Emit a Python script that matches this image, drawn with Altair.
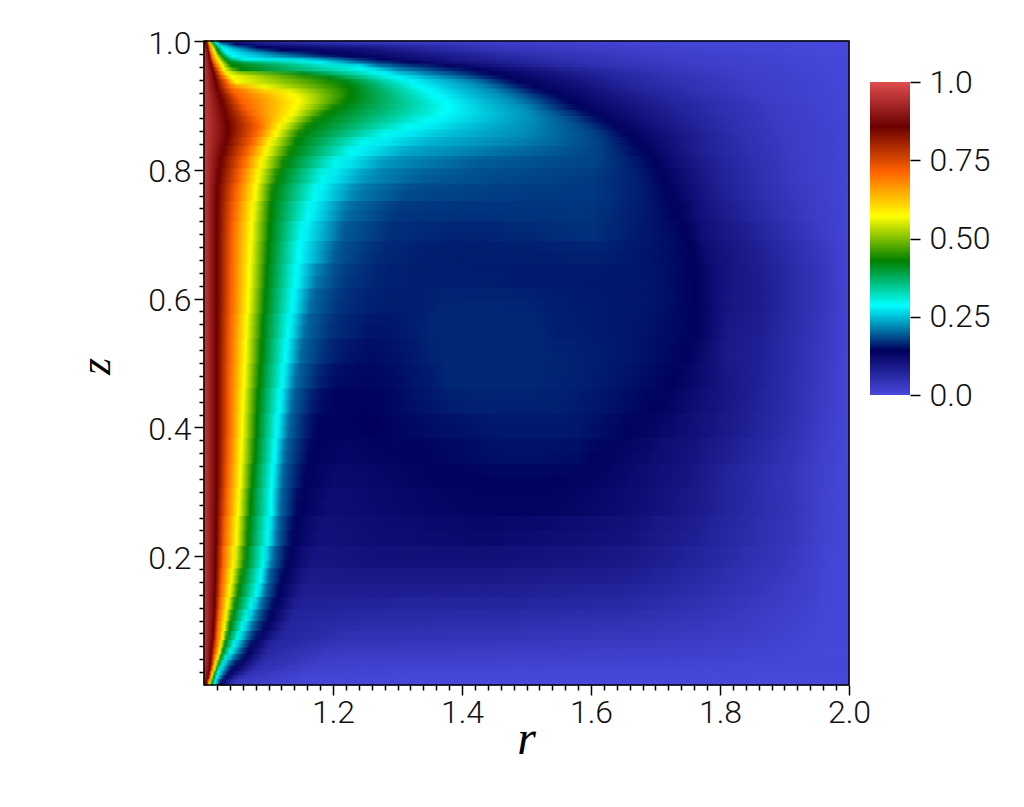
import altair as alt

# Colour map of the field (value knots and their colours)
KNOT_V = [0.0, 1/7, 2/7, 3/7, 4/7, 5/7, 6/7, 1.0]
KNOT_RGB = [(71, 71, 219), (0, 0, 92), (0, 255, 255), (0, 128, 0),
            (255, 255, 0), (255, 97, 0), (107, 0, 0), (224, 77, 77)]
N = 1/7

# Bands of z (edges, top to bottom)
Z_EDGES = [1, .9953, .9907, .986, .9814, .9767, .972, .9674, .9627, .9565, .9503, .9441, .9379,
           .9301, .9224, .9146, .9068, .8975, .8882, .8789, .868, .8571, .8447, .8292, .8137,
           .7904, .7671, .736, .705, .674, .635, .596, .5575, .5186, .4798, .441, .402, .3634,
           .3245, .2857, .2391, .1925, .1693, .146, .1273, .107, .0916, .076, .0637, .053, .0435,
           .034, .0264, .019, .0124, .006, 0]

# Field value at the wall r = 1 for each band
WALL = [.88, .93, .96, .97, .97, .97, .97, .97, .97, .97, .97, .97, .97, .97, .97, .97, .97,
        .97, .97, .97, .97, .97, .97, .97, .97, .97, .97, .97, .97, .97, .97, .97, .97, .97,
        .97, .97, .97, .97, .97, .97, .97, .97, .97, .97, .97, .97, .97, .97, .97, .97, .97,
        .97, .96, .95, .93, .88]

# r at which each band crosses the named colour levels
R_DARK = [1.004, 1.005, 1.005, 1.007, 1.008, 1.009, 1.009, 1.011, 1.012, 1.014, 1.016, 1.017,
          1.019, 1.020, 1.023, 1.026, 1.028, 1.031, 1.033, 1.036, 1.037, 1.036, 1.033, 1.028,
          1.025, 1.022, 1.020, 1.020, 1.020, 1.020, 1.020, 1.020, 1.020, 1.020, 1.020, 1.020,
          1.020, 1.020, 1.020, 1.019, 1.019, 1.018, 1.018, 1.017, 1.017, 1.016, 1.015, 1.014,
          1.012, 1.011, 1.011, 1.010, 1.009, 1.007, 1.006, 1.004]
R_ORANGE = [1.006, 1.008, 1.009, 1.009, 1.011, 1.012, 1.014, 1.016, 1.019, 1.023, 1.026, 1.031,
            1.036, 1.040, 1.047, 1.054, 1.060, 1.067, 1.073, 1.081, 1.085, 1.079, 1.073, 1.065,
            1.059, 1.053, 1.048, 1.045, 1.043, 1.043, 1.042, 1.042, 1.040, 1.040, 1.039, 1.039,
            1.039, 1.037, 1.036, 1.034, 1.031, 1.029, 1.027, 1.026, 1.024, 1.022, 1.021, 1.020,
            1.019, 1.017, 1.015, 1.014, 1.012, 1.010, 1.009, 1.006]
R_YELLOW = [1.008, 1.011, 1.014, 1.016, 1.018, 1.020, 1.023, 1.026, 1.029, 1.031, 1.037, 1.043,
            1.050, 1.093, 1.133, 1.144, 1.147, 1.141, 1.135, 1.126, 1.116, 1.110, 1.101, 1.095,
            1.088, 1.082, 1.079, 1.074, 1.073, 1.071, 1.070, 1.068, 1.065, 1.064, 1.062, 1.060,
            1.059, 1.057, 1.056, 1.053, 1.050, 1.045, 1.042, 1.039, 1.036, 1.033, 1.031, 1.029,
            1.026, 1.024, 1.021, 1.018, 1.016, 1.013, 1.012, 1.009]
R_GREEN = [1.012, 1.016, 1.019, 1.021, 1.024, 1.029, 1.033, 1.038, 1.043, 1.057, 1.155, 1.195,
           1.217, 1.225, 1.228, 1.225, 1.217, 1.200, 1.186, 1.171, 1.158, 1.147, 1.141, 1.132,
           1.122, 1.112, 1.105, 1.102, 1.101, 1.098, 1.096, 1.093, 1.090, 1.088, 1.085, 1.082,
           1.081, 1.078, 1.074, 1.071, 1.067, 1.062, 1.056, 1.052, 1.047, 1.042, 1.039, 1.034,
           1.031, 1.028, 1.025, 1.022, 1.019, 1.016, 1.014, 1.012]
R_CYAN = [1.018, 1.022, 1.029, 1.033, 1.037, 1.045, 1.064, 1.184, 1.242, 1.264, 1.282, 1.302,
          1.322, 1.338, 1.353, 1.364, 1.377, 1.380, 1.369, 1.346, 1.316, 1.282, 1.245, 1.226,
          1.202, 1.183, 1.171, 1.160, 1.150, 1.146, 1.141, 1.136, 1.130, 1.126, 1.121, 1.116,
          1.112, 1.109, 1.105, 1.104, 1.098, 1.091, 1.087, 1.081, 1.073, 1.065, 1.059, 1.052,
          1.046, 1.040, 1.033, 1.028, 1.023, 1.021, 1.019, 1.017]

# (r, value) readings beyond the cyan crossing, one list per band
TAILS = [
 [(1.026,N),(1.047,.10),(1.093,.06),(1.186,.03),(1.310,.015),(1.543,.005),(2,0)],
 [(1.050,N),(1.109,.10),(1.242,.07),(1.465,.03),(1.698,.008),(2,0)],
 [(1.085,N),(1.242,.10),(1.357,.06),(1.448,.035),(1.698,.012),(2,0)],
 [(1.121,N),(1.242,.12),(1.357,.07),(1.465,.04),(1.698,.015),(1.977,0),(2,0)],
 [(1.186,N),(1.295,.11),(1.388,.08),(1.496,.045),(1.698,.02),(1.977,.002),(2,0)],
 [(1.228,N),(1.357,.10),(1.450,.07),(1.558,.045),(1.729,.02),(1.977,.003),(2,0)],
 [(1.155,.28),(1.206,.22),(1.273,N),(1.372,.10),(1.465,.07),(1.574,.045),(1.744,.02),(2,.003)],
 [(1.233,.22),(1.318,N),(1.419,.10),(1.504,.07),(1.605,.045),(1.760,.02),(2,.003)],
 [(1.267,.22),(1.380,N),(1.465,.10),(1.543,.07),(1.651,.04),(1.791,.02),(2,.003)],
 [(1.302,.22),(1.425,N),(1.496,.11),(1.597,.07),(1.698,.04),(1.822,.02),(2,.003)],
 [(1.349,.22),(1.448,N),(1.527,.11),(1.620,.07),(1.721,.04),(1.837,.02),(2,.004)],
 [(1.388,.22),(1.470,N),(1.550,.11),(1.636,.07),(1.729,.045),(1.845,.02),(2,.005)],
 [(1.372,.25),(1.419,.22),(1.488,N),(1.566,.11),(1.651,.07),(1.744,.045),(1.853,.02),(2,.005)],
 [(1.388,.25),(1.437,.22),(1.512,N),(1.589,.11),(1.667,.07),(1.760,.045),(1.860,.02),(2,.005)],
 [(1.406,.25),(1.457,.22),(1.532,N),(1.605,.11),(1.690,.07),(1.775,.045),(1.868,.02),(2,.005)],
 [(1.419,.25),(1.473,.22),(1.555,N),(1.620,.11),(1.690,.08),(1.775,.05),(1.876,.02),(2,.005)],
 [(1.434,.25),(1.488,.22),(1.569,N),(1.636,.11),(1.705,.08),(1.791,.05),(1.876,.025),(2,.005)],
 [(1.442,.25),(1.504,.22),(1.543,.18),(1.586,N),(1.651,.11),(1.721,.08),(1.798,.05),(1.884,.025),(2,.005)],
 [(1.450,.25),(1.512,.22),(1.566,.18),(1.605,N),(1.667,.11),(1.729,.08),(1.806,.05),(1.891,.025),(2,.005)],
 [(1.434,.25),(1.512,.22),(1.581,.18),(1.623,N),(1.682,.11),(1.744,.08),(1.814,.05),(1.899,.025),(2,.006)],
 [(1.403,.25),(1.504,.22),(1.597,.18),(1.643,N),(1.698,.11),(1.752,.08),(1.822,.05),(1.902,.025),(2,.006)],
 [(1.364,.25),(1.496,.22),(1.609,.18),(1.659,N),(1.710,.11),(1.752,.09),(1.829,.05),(1.907,.025),(2,.006)],
 [(1.341,.24),(1.496,.21),(1.612,.18),(1.674,N),(1.721,.11),(1.767,.08),(1.837,.05),(1.910,.025),(2,.006)],
 [(1.310,.23),(1.465,.20),(1.612,.18),(1.687,N),(1.729,.11),(1.775,.08),(1.845,.05),(1.915,.025),(2,.006)],
 [(1.279,.22),(1.419,.19),(1.605,.18),(1.667,.16),(1.701,N),(1.744,.11),(1.791,.08),(1.853,.05),(1.918,.025),(2,.006)],
 [(1.248,.22),(1.341,.19),(1.496,.18),(1.589,.175),(1.674,.16),(1.713,N),(1.755,.11),(1.798,.08),(1.860,.05),(1.922,.025),(2,.007)],
 [(1.233,.21),(1.310,.18),(1.465,.175),(1.605,.175),(1.674,.16),(1.705,.15),(1.726,N),(1.764,.11),(1.806,.08),(1.868,.05),(1.926,.028),(2,.007)],
 [(1.217,.20),(1.295,.17),(1.434,.168),(1.589,.172),(1.690,.155),(1.740,N),(1.772,.11),(1.820,.085),(1.880,.055),(1.940,.026),(2,.006)],
 [(1.217,.19),(1.287,.168),(1.388,.16),(1.501,.163),(1.603,.17),(1.656,.16),(1.722,.15),(1.752,N),(1.778,.11),(1.830,.09),(1.892,.058),(1.950,.028),(2,.005)],
 [(1.202,.19),(1.264,.165),(1.341,.158),(1.620,.158),(1.681,.155),(1.733,.148),(1.760,N),(1.794,.11),(1.845,.09),(1.907,.06),(1.964,.03),(2,.004)],
 [(1.174,.20),(1.225,.17),(1.287,.16),(1.372,.16),(1.690,.155),(1.736,.148),(1.763,N),(1.811,.10),(1.862,.087),(1.913,.058),(1.966,.032),(2,.004)],
 [(1.164,.20),(1.209,.17),(1.256,.16),(1.287,.158),(1.346,.16),(1.372,.165),(1.496,.165),(1.535,.16),(1.682,.155),(1.735,.148),(1.764,N),(1.811,.10),(1.862,.087),(1.913,.058),(1.966,.03),(2,.004)],
 [(1.155,.2),(1.194,.17),(1.233,.158),(1.264,.152),(1.295,.155),(1.333,.16),(1.353,.165),(1.519,.165),(1.543,.16),(1.667,.155),(1.728,.148),(1.760,N),(1.811,.095),(1.862,.08),(1.913,.055),(1.966,.027),(2,.004)],
 [(1.149,.2),(1.183,.17),(1.209,.155),(1.256,.148),(1.295,.152),(1.353,.16),(1.380,.165),(1.519,.165),(1.600,.16),(1.660,.155),(1.718,.148),(1.744,N),(1.811,.09),(1.862,.078),(1.913,.053),(1.966,.024),(2,.004)],
 [(1.140,.2),(1.167,.17),(1.181,.155),(1.202,.147),(1.248,.145),(1.295,.148),(1.330,.155),(1.364,.16),(1.380,.165),(1.493,.165),(1.578,.16),(1.634,.155),(1.691,.148),(1.724,N),(1.758,.125),(1.811,.10),(1.862,.076),(1.913,.052),(1.966,.022),(2,.004)],
 [(1.135,.2),(1.155,.17),(1.167,.155),(1.183,.147),(1.209,N),(1.271,N),(1.318,.15),(1.364,.155),(1.434,.16),(1.552,.16),(1.603,.155),(1.656,.148),(1.698,N),(1.758,.115),(1.811,.095),(1.862,.072),(1.913,.05),(1.966,.02),(2,.004)],
 [(1.130,.2),(1.149,.17),(1.160,.155),(1.175,N),(1.217,.138),(1.264,N),(1.349,.148),(1.388,.15),(1.465,.155),(1.578,.155),(1.618,.148),(1.659,N),(1.706,.125),(1.758,.11),(1.811,.09),(1.862,.068),(1.913,.046),(1.966,.017),(2,.003)],
 [(1.124,.2),(1.141,.17),(1.163,N),(1.217,.128),(1.264,.135),(1.341,N),(1.450,.15),(1.527,.15),(1.578,.148),(1.609,N),(1.656,.127),(1.707,.115),(1.758,.1),(1.811,.078),(1.862,.058),(1.913,.038),(1.966,.012),(2,.003)],
 [(1.121,.2),(1.136,.17),(1.155,N),(1.202,.12),(1.264,.125),(1.326,.135),(1.419,N),(1.552,N),(1.656,.122),(1.758,.097),(1.811,.07),(1.862,.052),(1.913,.034),(1.966,.011),(2,.003)],
 [(1.118,.2),(1.132,.17),(1.144,N),(1.194,.115),(1.264,.122),(1.419,.135),(1.527,.135),(1.656,.118),(1.758,.09),(1.862,.054),(1.913,.038),(1.966,.01),(2,.003)],
 [(1.112,.2),(1.124,.17),(1.135,N),(1.178,.105),(1.264,.115),(1.434,.12),(1.552,.11),(1.656,.10),(1.758,.078),(1.862,.048),(1.913,.033),(1.966,.009),(2,.003)],
 [(1.103,.2),(1.127,N),(1.165,.095),(1.264,.102),(1.45,.10),(1.552,.097),(1.656,.09),(1.758,.068),(1.862,.042),(1.913,.028),(1.966,.008),(2,.003)],
 [(1.099,.2),(1.12,N),(1.158,.088),(1.264,.09),(1.465,.088),(1.552,.083),(1.656,.078),(1.758,.06),(1.862,.037),(1.913,.024),(1.966,.007),(2,.003)],
 [(1.094,.2),(1.115,N),(1.15,.082),(1.264,.08),(1.465,.077),(1.552,.073),(1.656,.068),(1.758,.053),(1.862,.032),(1.913,.021),(1.966,.006),(2,.002)],
 [(1.087,.2),(1.107,N),(1.142,.076),(1.264,.068),(1.465,.066),(1.552,.062),(1.656,.058),(1.758,.045),(1.862,.027),(1.913,.018),(1.966,.006),(2,.002)],
 [(1.08,.2),(1.1,N),(1.135,.07),(1.264,.058),(1.465,.055),(1.552,.05),(1.656,.047),(1.758,.037),(1.862,.023),(1.913,.015),(1.966,.005),(2,.002)],
 [(1.073,.2),(1.092,N),(1.125,.07),(1.24,.05),(1.465,.046),(1.552,.042),(1.656,.039),(1.758,.031),(1.862,.02),(1.913,.012),(1.966,.004),(2,.002)],
 [(1.066,.2),(1.081,N),(1.112,.07),(1.217,.043),(1.465,.037),(1.552,.033),(1.656,.031),(1.758,.026),(1.862,.016),(1.966,.003),(2,.002)],
 [(1.059,.2),(1.072,N),(1.102,.066),(1.2,.034),(1.465,.029),(1.552,.027),(1.656,.024),(1.758,.02),(1.862,.013),(1.966,.003),(2,.002)],
 [(1.053,.2),(1.068,N),(1.098,.062),(1.19,.028),(1.465,.023),(1.775,.016),(1.966,.003),(2,.002)],
 [(1.045,.2),(1.06,N),(1.092,.056),(1.186,.021),(1.465,.017),(1.775,.012),(1.966,.003),(2,.002)],
 [(1.038,.2),(1.05,N),(1.087,.05),(1.186,.016),(1.465,.012),(1.853,.007),(2,.002)],
 [(1.034,.2),(1.043,N),(1.08,.045),(1.17,.012),(1.465,.008),(1.853,.005),(2,.002)],
 [(1.03,.2),(1.037,N),(1.068,.04),(1.155,.009),(1.465,.005),(2,.002)],
 [(1.026,.2),(1.032,N),(1.055,.035),(1.155,.006),(1.465,.003),(2,.001)],
 [(1.025,N),(1.047,.03),(1.155,.003),(1.465,0),(2,0)],
]

X_TICKS = [round(1 + i * 0.02, 2) for i in range(1, 51)]
Y_TICKS = [round(i * 0.02, 2) for i in range(1, 51)]
BAR_TICKS = [0, 0.25, 0.5, 0.75, 1]
FONT = "Roboto"


def colour(v):
    for i in range(7):
        if v <= KNOT_V[i + 1] + 1e-9:
            t = max(0.0, (v - KNOT_V[i]) / (KNOT_V[i + 1] - KNOT_V[i]))
            a, b = KNOT_RGB[i], KNOT_RGB[i + 1]
            return "#%02x%02x%02x" % tuple(round(a[k] + (b[k] - a[k]) * t) for k in range(3))
    return "#e04d4d"


rows, soft_rows = [], []
n_rows = len(TAILS)
for i, tail in enumerate(TAILS):
    pts = [(1.0, WALL[i]), (R_DARK[i], 6/7), (R_ORANGE[i], 5/7), (R_YELLOW[i], 4/7),
           (R_GREEN[i], 3/7), (R_CYAN[i], 2/7)] + tail
    stops = [{"offset": round(r - 1.0, 4), "color": colour(v)} for r, v in pts]
    fill = {"gradient": "linear", "x1": 0, "y1": 0, "x2": 1, "y2": 0, "stops": stops}
    top, bottom = Z_EDGES[i], Z_EDGES[i + 1]
    rows.append({"r0": 1.0, "r1": 2.0, "z0": bottom, "z1": top, "fill": fill})
    # the same band again, half transparent, reaching half-way into its neighbours
    up = (Z_EDGES[i - 1] + top) / 2 if i > 0 else top
    down = (Z_EDGES[i + 2] + bottom) / 2 if i < n_rows - 1 else bottom
    soft_rows.append({"r0": 1.0, "r1": 2.0, "z0": down, "z1": up, "fill": fill})

major_r = "abs(datum.value*5-round(datum.value*5))<0.001"

x_axis = alt.Axis(
    values=X_TICKS, grid=False, domain=False, title="r",
    tickColor="black", tickWidth=1.5, labelFont=FONT, labelFontSize=32, labelFontWeight=300,
    labelColor="#111111",
    labelExpr=f"{major_r} ? format(datum.value,'.1f') : ''", labelPadding=2, labelFlush=False,
    labelOverlap=False, tickSize={"condition": {"test": major_r, "value": 10}, "value": 5},
    titleFont="Liberation Serif", titleFontStyle="italic", titleFontWeight="normal",
    titleFontSize=48, titleColor="black", titleX=322, titleY=30, titleAnchor="middle",
)
y_axis = alt.Axis(
    values=Y_TICKS, grid=False, domain=False, title="z",
    tickColor="black", tickWidth=1.5, labelFont=FONT, labelFontSize=32, labelFontWeight=300,
    labelColor="#111111", labelOffset=2,
    labelExpr=f"{major_r} ? format(datum.value,'.1f') : ''", labelPadding=3, labelFlush=False,
    labelOverlap=False, tickSize={"condition": {"test": major_r, "value": 10}, "value": 5},
    titleFont="Liberation Serif", titleFontStyle="italic", titleFontWeight="normal",
    titleFontSize=44, titleColor="black", titleX=-86, titleY=325, titleAngle=270,
)

x_scale = alt.Scale(domain=[1, 2], nice=False, zero=False)
y_scale = alt.Scale(domain=[0, 1], nice=False, zero=False)

field = alt.Chart(alt.Data(values=rows)).mark_rect(strokeWidth=1).encode(
    x=alt.X("r0:Q", scale=x_scale, axis=x_axis),
    x2="r1:Q",
    y=alt.Y("z0:Q", scale=y_scale, axis=y_axis),
    y2="z1:Q",
    color=alt.Color("fill:N", scale=None),
    stroke=alt.Stroke("fill:N", scale=None),
)

soft = alt.Chart(alt.Data(values=soft_rows)).mark_rect(strokeWidth=0, opacity=0.5).encode(
    x=alt.X("r0:Q", scale=x_scale, axis=None),
    x2="r1:Q",
    y=alt.Y("z0:Q", scale=y_scale, axis=None),
    y2="z1:Q",
    color=alt.Color("fill:N", scale=None),
)

frame = alt.Chart(alt.Data(values=[{"a": 1, "b": 2, "c": 0, "d": 1}])).mark_rect(
    fill="transparent", stroke="black", strokeWidth=1.5
).encode(
    x=alt.X("a:Q", scale=x_scale, axis=None), x2="b:Q",
    y=alt.Y("c:Q", scale=y_scale, axis=None), y2="d:Q",
)

bar_gradient = alt.Gradient(
    gradient="linear", x1=0, x2=0, y1=1, y2=0,
    stops=[alt.GradientStop(offset=KNOT_V[i], color=colour(KNOT_V[i])) for i in range(8)],
)
bar = alt.Chart(alt.Data(values=[{"a": 0, "b": 1, "c": 0, "d": 1}])).mark_rect(
    color=bar_gradient, strokeWidth=0
).encode(
    x=alt.X("a:Q", scale=alt.Scale(domain=[0, 1], range=[666, 706]), axis=None),
    x2="b:Q",
    y=alt.Y("c:Q", scale=alt.Scale(domain=[0, 1], range=[354, 41]),
            axis=alt.Axis(orient="right", values=BAR_TICKS, offset=61, grid=False, domain=False,
                          title=None, tickColor="black", tickWidth=1.5, tickSize=10,
                          labelFont=FONT, labelFontSize=32, labelFontWeight=300,
                          labelColor="#111111", labelPadding=9,
                          labelFlush=False, labelOverlap=False,
                          labelExpr="datum.value==0||datum.value==1 ? format(datum.value,'.1f') : format(datum.value,'.2f')")),
    y2="d:Q",
)

chart = alt.layer(field, soft, frame, bar).resolve_scale(x="independent", y="independent").properties(
    width=645, height=644, autosize="none",
    padding={"left": 196, "top": 33, "right": 163, "bottom": 110},
).configure_view(stroke=None)

chart.save("out.html", embed_options={"renderer": "svg", "actions": False})
